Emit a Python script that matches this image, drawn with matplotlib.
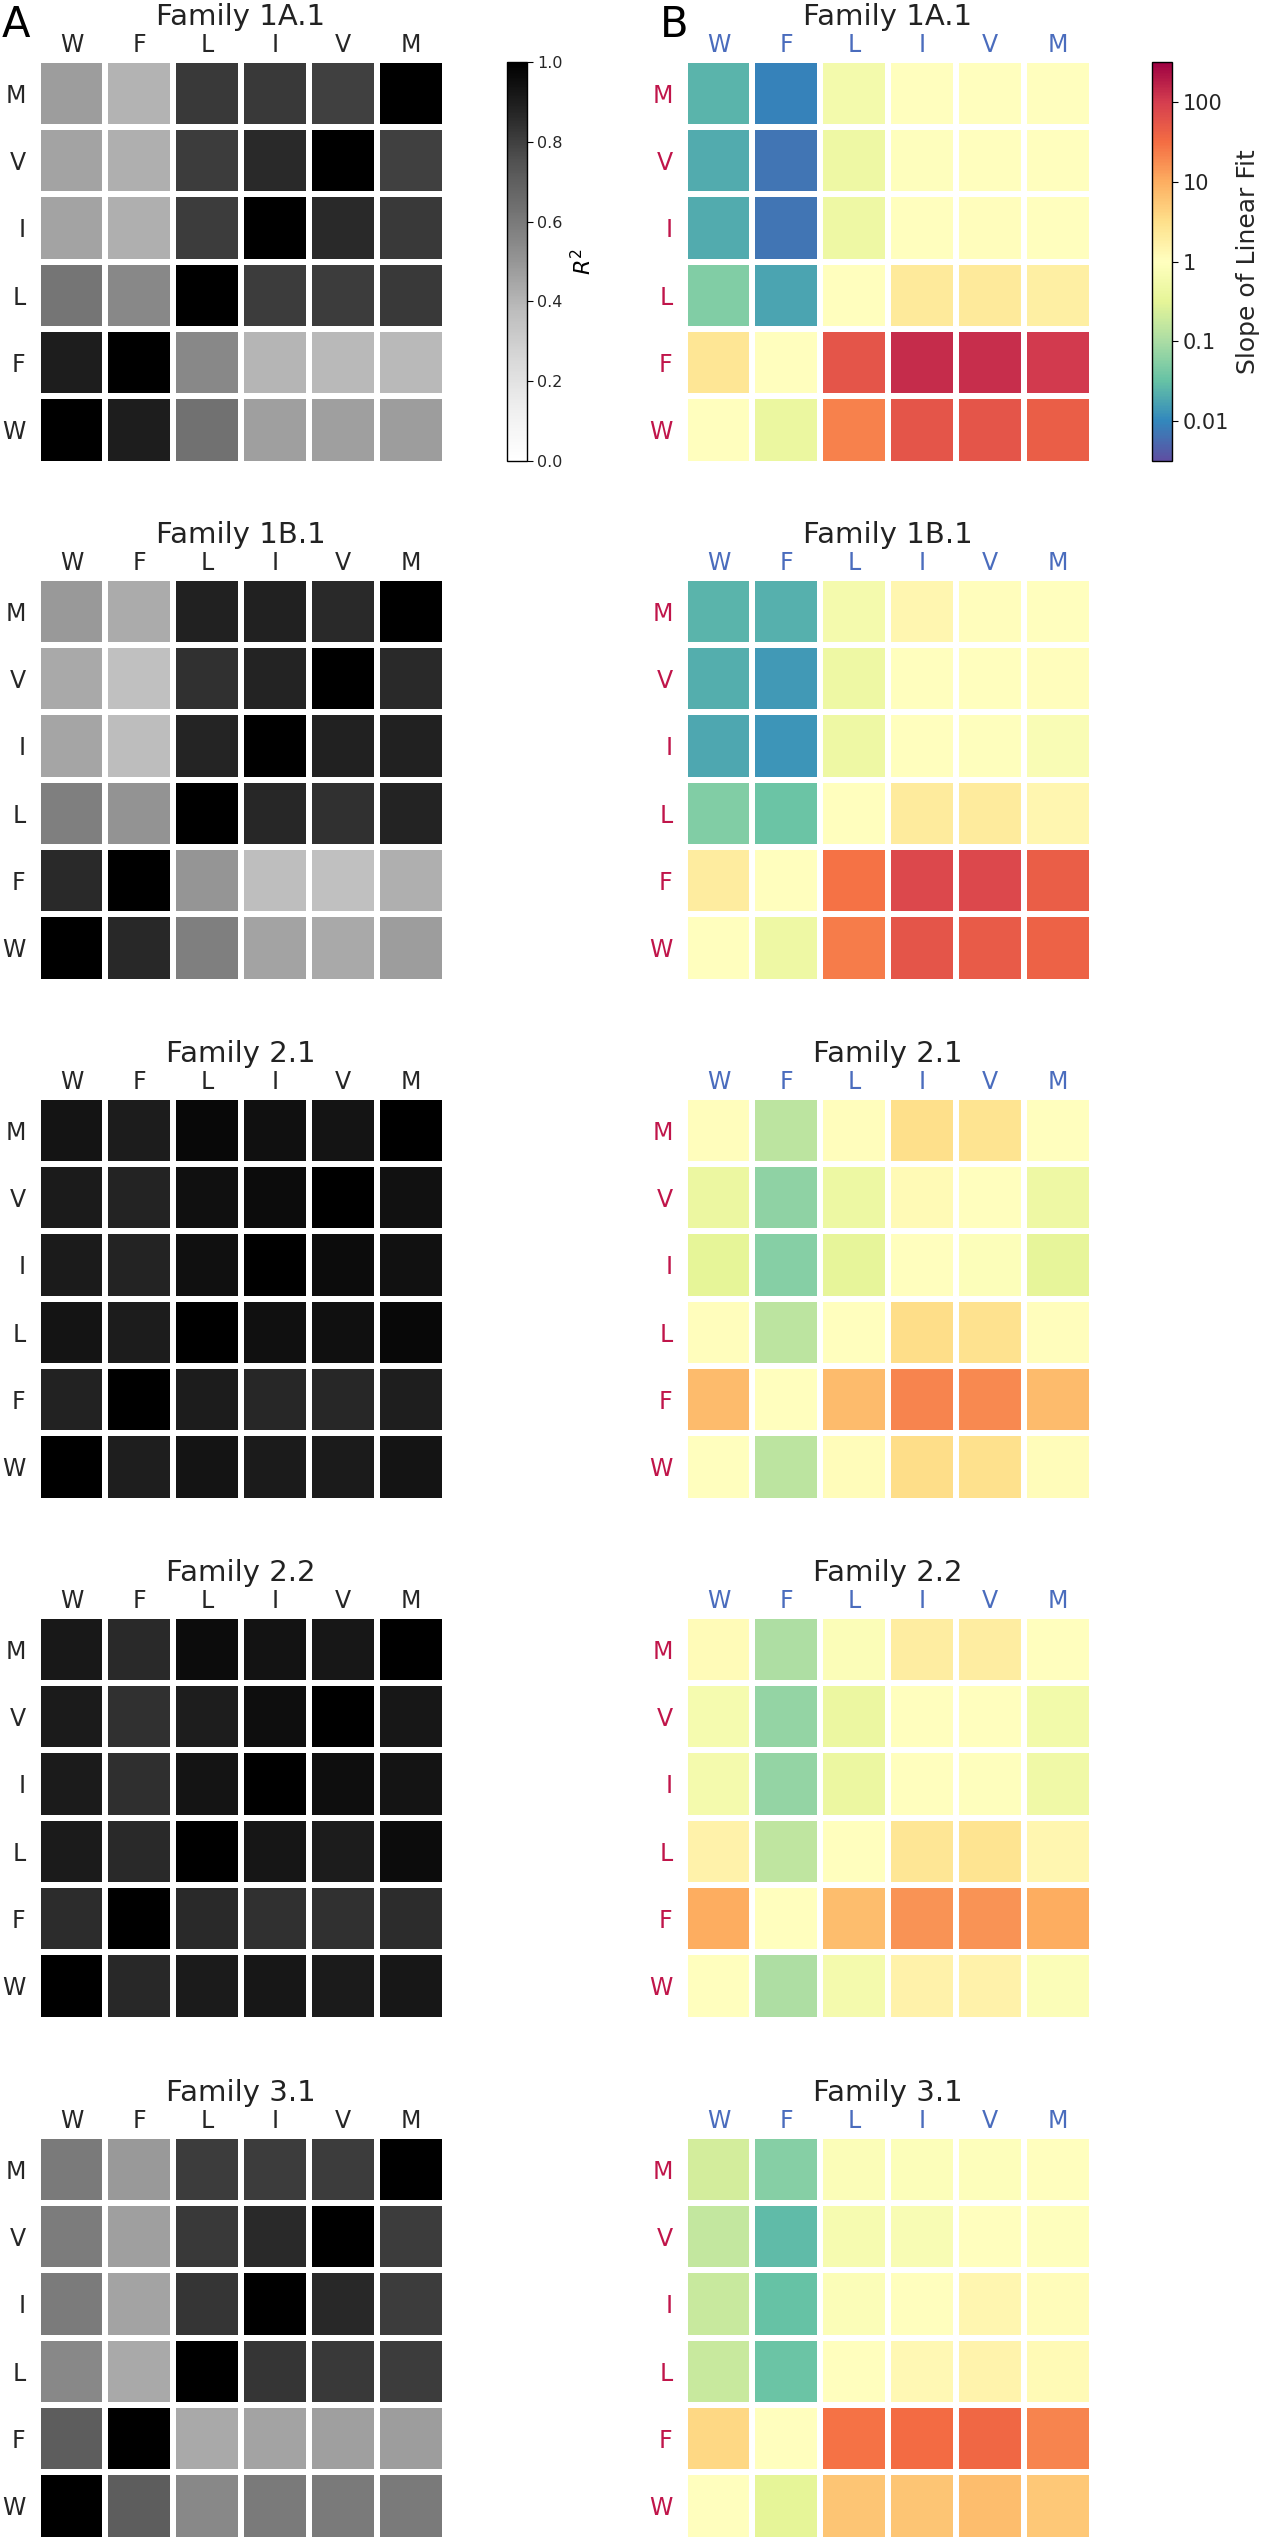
import matplotlib
matplotlib.use("Agg")
import matplotlib.pyplot as plt
import numpy as np
from matplotlib.colors import LogNorm
from matplotlib.ticker import NullLocator

plt.rcParams['font.family'] = ['DejaVu Sans']

residues = ['W', 'F', 'L', 'I', 'V', 'M']
row_labels = ['M', 'V', 'I', 'L', 'F', 'W']   # top to bottom
families = ['Family 1A.1', 'Family 1B.1', 'Family 2.1', 'Family 2.2', 'Family 3.1']

# R^2 of linear fit, rows M V I L F W (top->bottom), cols W F L I V M
r2_1a1 = [[0.48, 0.41, 0.82, 0.82, 0.80, 1.00],
          [0.46, 0.42, 0.81, 0.86, 1.00, 0.80],
          [0.46, 0.42, 0.81, 1.00, 0.86, 0.82],
          [0.62, 0.55, 1.00, 0.81, 0.81, 0.82],
          [0.90, 1.00, 0.55, 0.40, 0.39, 0.39],
          [1.00, 0.90, 0.63, 0.47, 0.47, 0.48]]
r2_1b1 = [[0.49, 0.43, 0.89, 0.89, 0.86, 1.00],
          [0.44, 0.36, 0.84, 0.88, 1.00, 0.86],
          [0.45, 0.375, 0.875, 1.00, 0.89, 0.89],
          [0.58, 0.51, 1.00, 0.87, 0.84, 0.88],
          [0.86, 1.00, 0.50, 0.37, 0.36, 0.42],
          [1.00, 0.865, 0.58, 0.46, 0.44, 0.48]]
r2_21 = [[0.93, 0.905, 0.97, 0.945, 0.93, 1.00],
         [0.91, 0.88, 0.945, 0.96, 1.00, 0.94],
         [0.91, 0.88, 0.945, 1.00, 0.96, 0.94],
         [0.93, 0.905, 1.00, 0.945, 0.945, 0.97],
         [0.885, 1.00, 0.905, 0.87, 0.87, 0.895],
         [1.00, 0.895, 0.93, 0.91, 0.91, 0.93]]
r2_22 = [[0.915, 0.86, 0.96, 0.935, 0.92, 1.00],
         [0.91, 0.84, 0.90, 0.95, 1.00, 0.92],
         [0.91, 0.845, 0.93, 1.00, 0.95, 0.93],
         [0.91, 0.86, 1.00, 0.925, 0.905, 0.96],
         [0.855, 1.00, 0.86, 0.84, 0.84, 0.855],
         [1.00, 0.865, 0.91, 0.92, 0.91, 0.92]]
r2_31 = [[0.60, 0.49, 0.81, 0.81, 0.81, 1.00],
         [0.59, 0.47, 0.82, 0.86, 1.00, 0.81],
         [0.595, 0.46, 0.83, 1.00, 0.865, 0.81],
         [0.55, 0.44, 1.00, 0.83, 0.82, 0.81],
         [0.71, 1.00, 0.44, 0.46, 0.47, 0.48],
         [1.00, 0.71, 0.55, 0.60, 0.60, 0.60]]

# slope of linear fit, same layout
slope_1a1 = [[0.025, 0.009, 0.56, 1.0, 1.0, 1.0],
             [0.02, 0.007, 0.45, 0.95, 1.0, 1.0],
             [0.02, 0.007, 0.45, 1.0, 1.05, 1.0],
             [0.05, 0.018, 1.0, 2.2, 2.2, 1.8],
             [2.5, 1.0, 56, 140, 130, 105],
             [1.0, 0.4, 22, 55, 55, 45]]
slope_1b1 = [[0.025, 0.022, 0.6, 1.4, 1.05, 1.0],
             [0.021, 0.014, 0.45, 1.0, 1.0, 1.05],
             [0.019, 0.013, 0.45, 1.0, 0.95, 0.75],
             [0.05, 0.035, 1.0, 2.1, 2.1, 1.4],
             [2.0, 1.0, 28, 75, 75, 45],
             [1.0, 0.45, 24, 55, 48, 40]]
slope_21 = [[1.05, 0.14, 1.05, 3.2, 2.8, 1.0],
            [0.42, 0.063, 0.43, 1.2, 1.0, 0.45],
            [0.32, 0.056, 0.33, 1.0, 0.85, 0.33],
            [1.05, 0.14, 1.0, 3.3, 2.9, 1.05],
            [7.5, 1.0, 7.5, 21, 19, 7.5],
            [1.0, 0.14, 1.1, 3.3, 3.0, 1.1]]
slope_22 = [[1.15, 0.11, 0.8, 1.9, 1.9, 1.0],
            [0.62, 0.07, 0.42, 1.0, 1.0, 0.55],
            [0.6, 0.07, 0.42, 1.0, 0.95, 0.5],
            [1.6, 0.15, 1.0, 2.5, 2.7, 1.4],
            [10, 1.0, 7, 16, 16, 10],
            [1.0, 0.11, 0.6, 1.6, 1.6, 0.8]]
slope_31 = [[0.22, 0.056, 0.8, 0.85, 0.9, 1.0],
            [0.16, 0.028, 0.65, 0.72, 1.0, 0.95],
            [0.18, 0.032, 0.8, 1.0, 1.4, 1.1],
            [0.18, 0.035, 1.0, 1.3, 1.5, 1.25],
            [3.8, 1.0, 28, 32, 36, 21],
            [1.0, 0.32, 6, 6, 7, 5.3]]

r2_all = [r2_1a1, r2_1b1, r2_21, r2_22, r2_31]
slope_all = [slope_1a1, slope_1b1, slope_21, slope_22, slope_31]

W, H = 1262, 2538
fig = plt.figure(figsize=(W / 100, H / 100), dpi=100)


def box(x0, x1, top, h):
    return [x0 / W, 1 - (top + h) / H, (x1 - x0) / W, h / H]


panel_top = [62, 580, 1099, 1618, 2138]
panel_h = 399
m = 2.5  # white grid lines eat half their width at the axes edge

norm_b = LogNorm(vmin=10 ** -2.5, vmax=10 ** 2.5)

for k, fam in enumerate(families):
    top = panel_top[k]
    axa = fig.add_axes(box(40 - m, 442 + m, top - m, panel_h + 2 * m))
    ma = axa.pcolormesh(np.array(r2_all[k]), cmap='Greys', vmin=0, vmax=1,
                        edgecolors='white', linewidth=4)
    axb = fig.add_axes(box(687 - m, 1089 + m, top - m, panel_h + 2 * m))
    mb = axb.pcolormesh(np.array(slope_all[k]), cmap='Spectral_r', norm=norm_b,
                        edgecolors='white', linewidth=4)

    for ax, col_c, row_c in [(axa, '#262626', '#262626'),
                             (axb, '#4a6cbd', '#c0154a')]:
        ax.invert_yaxis()
        ax.xaxis.tick_top()
        ax.set_xticks(np.arange(6) + 0.5)
        ax.set_xticklabels(residues, color=col_c, fontsize=17)
        ax.set_yticks(np.arange(6) + 0.5)
        ax.set_yticklabels(row_labels, color=row_c, fontsize=17)
        ax.tick_params(axis='x', length=0, pad=1.5)
        ax.tick_params(axis='y', length=0, pad=8.5)
        for s in ax.spines.values():
            s.set_visible(False)
        ax.text(0.5, 1 + (37 - m) / (panel_h + 2 * m), fam, transform=ax.transAxes,
                ha='center', va='baseline', fontsize=21, color='#222222')

    if k == 0:
        cax = fig.add_axes(box(507, 527, top, panel_h))
        cb = fig.colorbar(ma, cax=cax)
        cb.set_ticks([0, 0.2, 0.4, 0.6, 0.8, 1.0])
        cb.ax.tick_params(labelsize=11.5, labelcolor='#262626', length=4)
        cb.set_label('$R^2$', fontsize=16, labelpad=5)
        cb.outline.set_linewidth(1)

        cbx = fig.add_axes(box(1152, 1172, top, panel_h))
        cb2 = fig.colorbar(mb, cax=cbx)
        cb2.set_ticks([0.01, 0.1, 1, 10, 100])
        cb2.set_ticklabels(['0.01', '0.1', '1', '10', '100'])
        cb2.ax.yaxis.set_minor_locator(NullLocator())
        cb2.ax.tick_params(labelsize=15, labelcolor='#262626', length=4)
        cb2.set_label('Slope of Linear Fit', fontsize=18, labelpad=5,
                      color='#262626')
        cb2.outline.set_linewidth(1)

fig.text(2 / W, 1 - 37 / H, 'A', fontsize=30, va='baseline', ha='left')
fig.text(660 / W, 1 - 37 / H, 'B', fontsize=30, va='baseline', ha='left')

fig.savefig('out.png', dpi=100, facecolor='white')
